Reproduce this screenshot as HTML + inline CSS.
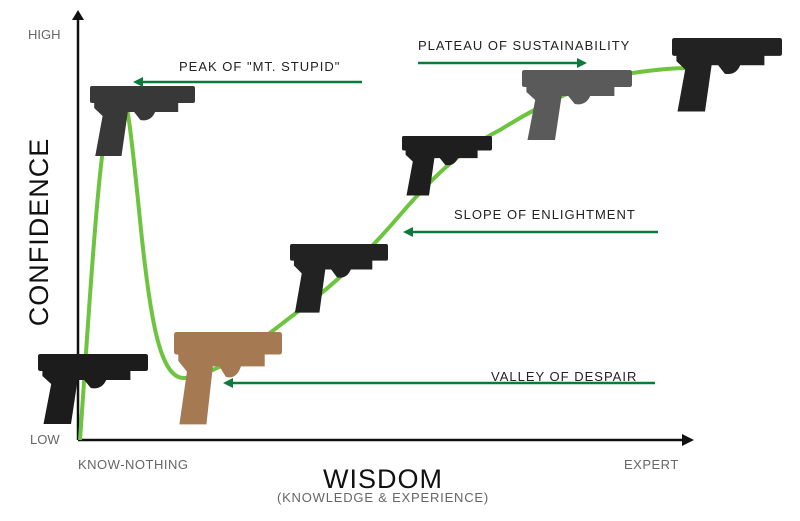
<!DOCTYPE html>
<html><head><style>body{margin:0;background:#fff}svg{display:block}</style></head><body>
<svg width="800" height="521" viewBox="0 0 800 521" xmlns="http://www.w3.org/2000/svg" font-family="Liberation Sans, sans-serif">
<defs>
<g id="gun">
<rect x="0" y="0" width="100" height="17" rx="2"/>
<path d="M4 15 H84 V26 H62 Q58 36 48 34 L42 26 H36 L30 70 H5 L12 30 L4 22 Z"/>
</g>
<marker id="ah" viewBox="0 0 10 10" refX="5" refY="5" markerWidth="4" markerHeight="4" orient="auto"><path d="M0 0 L10 5 L0 10 Z" fill="#0b7a3b"/></marker>
</defs>
<line x1="78" y1="440" x2="78" y2="18" stroke="#111" stroke-width="2.5"/>
<path d="M72 20 L78 10 L84 20 Z" fill="#111"/>
<line x1="78" y1="440" x2="684" y2="440" stroke="#111" stroke-width="2.5"/>
<path d="M682 434 L694 440 L682 446 Z" fill="#111"/>
<path d="M80 440 C90 300 100 110 116 90 C126 82 130 120 140 220 C150 320 160 380 185 378 C220 375 260 340 300 310 C340 280 370 250 400 215 C430 180 460 150 500 130 C540 105 580 85 620 75 C650 70 670 68 690 68" fill="none" stroke="#6dc43f" stroke-width="4"/>
<g fill="#1c1c1c"><use href="#gun" transform="translate(38,354) scale(1.1,1.0)"/></g>
<g fill="#383838"><use href="#gun" transform="translate(90,86) scale(1.05,1.0)"/></g>
<g fill="#a57a52"><use href="#gun" transform="translate(174,332) scale(1.08,1.32)"/></g>
<g fill="#222"><use href="#gun" transform="translate(290,244) scale(0.98,0.98)"/></g>
<g fill="#1e1e1e"><use href="#gun" transform="translate(402,136) scale(0.9,0.85)"/></g>
<g fill="#5a5a5a"><use href="#gun" transform="translate(522,70) scale(1.1,1.0)"/></g>
<g fill="#222"><use href="#gun" transform="translate(672,38) scale(1.1,1.05)"/></g>
<g stroke="#0b7a3b" stroke-width="2.5" marker-end="url(#ah)">
<line x1="362" y1="82" x2="138" y2="82"/>
<line x1="418" y1="63" x2="582" y2="63"/>
<line x1="658" y1="232" x2="408" y2="232"/>
<line x1="655" y1="383" x2="228" y2="383"/>
</g>
<g fill="#222" font-size="13" letter-spacing="1">
<text x="179" y="71">PEAK OF "MT. STUPID"</text>
<text x="418" y="50">PLATEAU OF SUSTAINABILITY</text>
<text x="454" y="219">SLOPE OF ENLIGHTMENT</text>
<text x="491" y="381">VALLEY OF DESPAIR</text>
</g>
<g fill="#666" font-size="13">
<text x="28" y="39">HIGH</text>
<text x="30" y="444">LOW</text>
<text x="78" y="469" letter-spacing="0.5">KNOW-NOTHING</text>
<text x="624" y="469" letter-spacing="0.5">EXPERT</text>
<text x="383" y="502" text-anchor="middle" letter-spacing="0.8">(KNOWLEDGE &amp; EXPERIENCE)</text>
</g>
<text x="383" y="488" text-anchor="middle" font-size="27" fill="#111" letter-spacing="1">WISDOM</text>
<text transform="translate(48,232) rotate(-90)" text-anchor="middle" font-size="27" fill="#111" letter-spacing="1">CONFIDENCE</text>
</svg>
</body></html>
